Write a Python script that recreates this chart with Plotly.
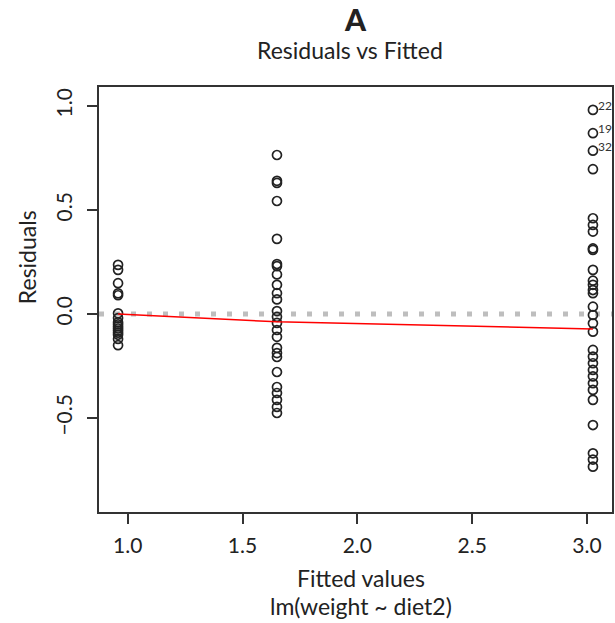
import plotly.graph_objects as go

# ---- data ----
fitted_levels = [0.958, 1.650, 3.026]

resid_g1 = [0.236, 0.212, 0.148, 0.099, 0.09, 0.003, -0.02, -0.04, -0.05, -0.06,
            -0.07, -0.08, -0.09, -0.10, -0.12, -0.15]
resid_g2 = [0.764, 0.64, 0.63, 0.543, 0.361, 0.24, 0.23, 0.19, 0.14, 0.10, 0.07,
            0.014, -0.014, -0.043, -0.077, -0.11, -0.163, -0.188, -0.207, -0.279,
            -0.351, -0.38, -0.413, -0.447, -0.476]
resid_g3 = [0.981, 0.869, 0.785, 0.696, 0.46, 0.428, 0.396, 0.315, 0.308, 0.212,
            0.16, 0.14, 0.115, 0.10, 0.035, -0.005, -0.045, -0.085, -0.173, -0.205,
            -0.237, -0.269, -0.30, -0.333, -0.365, -0.413, -0.534, -0.67, -0.70, -0.734]

smooth_x = [0.958, 1.650, 3.026]
smooth_y = [0.0, -0.038, -0.072]

labelled_ids = ["22", "19", "32"]
labelled_resid = [0.981, 0.869, 0.785]

x_ticks = [1.0, 1.5, 2.0, 2.5, 3.0]
x_ticklabels = ["1.0", "1.5", "2.0", "2.5", "3.0"]
y_ticks = [-0.5, 0.0, 0.5, 1.0]
y_ticklabels = ["\u22120.5", "0.0", "0.5", "1.0"]

FONT = "Lato, 'Open Sans', sans-serif"
INK = "#222222"

xs = ([fitted_levels[0]] * len(resid_g1) + [fitted_levels[1]] * len(resid_g2)
      + [fitted_levels[2]] * len(resid_g3))
ys = resid_g1 + resid_g2 + resid_g3

fig = go.Figure()
fig.add_hline(y=0, line=dict(color="#BEBEBE", width=5, dash="5px,11px"), layer="below")
fig.add_trace(go.Scatter(
    x=xs, y=ys, mode="markers",
    marker=dict(symbol="circle-open", size=9, color=INK, line=dict(width=1.7, color=INK)),
    hoverinfo="x+y", showlegend=False))
fig.add_trace(go.Scatter(
    x=smooth_x, y=smooth_y, mode="lines",
    line=dict(color="#FF0000", width=1.5), showlegend=False))

for lab, r in zip(labelled_ids, labelled_resid):
    fig.add_annotation(x=fitted_levels[2], y=r, text=lab, showarrow=False,
                       xanchor="left", yanchor="bottom", xshift=3, yshift=-5,
                       font=dict(family=FONT, size=12, color="#333"))

axis_common = dict(showline=True, linecolor="#333", linewidth=1.5, mirror=True,
                   ticks="outside", ticklen=10, tickwidth=1.5, tickcolor="#333",
                   showgrid=False, zeroline=False, automargin=False,
                   tickfont=dict(family=FONT, size=21, color=INK))

fig.update_xaxes(range=[0.875, 3.109], tickvals=x_ticks, ticktext=x_ticklabels,
                 ticklabelstandoff=4, **axis_common)
fig.update_yaxes(range=[-0.952, 1.091], tickvals=y_ticks, ticktext=y_ticklabels,
                 tickangle=-90, ticklabelstandoff=7, **axis_common)

texts = [
    dict(text="A", x=0.5, y=1.16, size=30, weight=900),
    dict(text="Residuals vs Fitted", x=0.49, y=1.088, size=23, weight=400),
    dict(text="Fitted values", x=0.51, y=-0.155, size=23, weight=400),
    dict(text="lm(weight ~ diet2)", x=0.51, y=-0.22, size=23, weight=400),
]
for t in texts:
    fig.add_annotation(xref="paper", yref="paper", x=t["x"], y=t["y"], text=t["text"],
                       showarrow=False, xanchor="center", yanchor="middle",
                       font=dict(family=FONT, size=t["size"], color=INK, weight=t["weight"]))
fig.add_annotation(xref="paper", yref="paper", x=-0.14, y=0.6, text="Residuals",
                   textangle=-90, showarrow=False, xanchor="center", yanchor="middle",
                   font=dict(family=FONT, size=23, color=INK))

fig.update_layout(width=615, height=623, plot_bgcolor="white", paper_bgcolor="white",
                  margin=dict(l=99, r=3, t=87, b=111, autoexpand=False), showlegend=False)

fig.write_html("out.html", config={"displayModeBar": False},
               post_script="document.body.style.margin='0';document.body.style.overflow='hidden';")
